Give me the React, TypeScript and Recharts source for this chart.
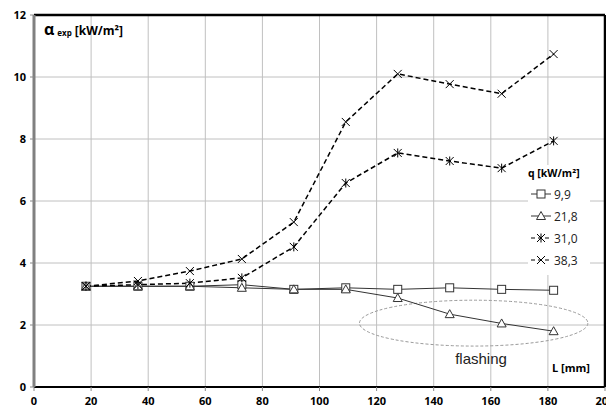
import React from "react";
import {
  LineChart, Line, XAxis, YAxis, CartesianGrid, ReferenceLine, ReferenceArea, Customized,
} from "recharts";

const lengths = [18.2, 36.4, 54.6, 72.8, 91, 109.2, 127.4, 145.6, 163.8, 182];
const q99 = [3.25, 3.25, 3.25, 3.3, 3.15, 3.2, 3.15, 3.2, 3.15, 3.12];
const q218 = [3.25, 3.25, 3.25, 3.2, 3.15, 3.15, 2.87, 2.35, 2.05, 1.8];
const q310 = [3.25, 3.3, 3.35, 3.52, 4.52, 6.58, 7.55, 7.29, 7.06, 7.94];
const q383 = [3.25, 3.42, 3.74, 4.13, 5.32, 8.55, 10.1, 9.77, 9.46, 10.74];
const xTicks = [0, 20, 40, 60, 80, 100, 120, 140, 160, 180, 200];
const yTicks = [0, 2, 4, 6, 8, 10, 12];
const seriesNames = ["9,9", "21,8", "31,0", "38,3"];

const data = lengths.map((L, i) => ({ L, a: q99[i], b: q218[i], c: q310[i], d: q383[i] }));

const FONT = "'Open Sans', 'DejaVu Sans', sans-serif";
const DARK = "#333";

const Square = (p: any) => (
  <rect key={p.key ?? `s${p.index}`} x={p.cx - 4} y={p.cy - 4} width={8} height={8} fill="#fff" stroke={DARK} strokeWidth={1} />
);
const Tri = (p: any) => (
  <polygon key={p.key ?? `t${p.index}`} points={`${p.cx},${p.cy - 4.5} ${p.cx - 4.5},${p.cy + 3.5} ${p.cx + 4.5},${p.cy + 3.5}`} fill="#fff" stroke={DARK} strokeWidth={1} />
);
const Star = (p: any) => (
  <g key={p.key ?? `a${p.index}`} stroke="#000" strokeWidth={1}>
    <line x1={p.cx - 4} y1={p.cy - 4} x2={p.cx + 4} y2={p.cy + 4} />
    <line x1={p.cx - 4} y1={p.cy + 4} x2={p.cx + 4} y2={p.cy - 4} />
    <line x1={p.cx} y1={p.cy - 4.5} x2={p.cx} y2={p.cy + 4.5} />
  </g>
);
const Cross = (p: any) => (
  <g key={p.key ?? `x${p.index}`} stroke="#000" strokeWidth={1}>
    <line x1={p.cx - 4} y1={p.cy - 4} x2={p.cx + 4} y2={p.cy + 4} />
    <line x1={p.cx - 4} y1={p.cy + 4} x2={p.cx + 4} y2={p.cy - 4} />
  </g>
);

const markers = [Square, Tri, Star, Cross];
const dashes = [undefined, undefined, "5 3", "5 3"];

const XTick = (p: any) => (
  <text x={p.x} y={p.y + 12} textAnchor="middle" fontFamily={FONT} fontWeight={700} fontSize={11} fill="#000">
    {p.payload.value}
  </text>
);
const YTick = (p: any) => (
  <text x={p.x - 2} y={p.y + 4} textAnchor="end" fontFamily={FONT} fontWeight={700} fontSize={11} fill="#000">
    {p.payload.value}
  </text>
);

const Overlay = () => {
  const lx = 528, ly = 165;
  return (
    <g>
      <text x={44} y={35} fontFamily={FONT} fontWeight={700} fill="#000">
        <tspan fontSize={16}>α</tspan>
        <tspan fontSize={8} dx={3} dy={1}>exp</tspan>
        <tspan fontSize={12} dx={3} dy={-1}>[kW/m²]</tspan>
      </text>
      <text x={552} y={372} fontFamily={FONT} fontWeight={700} fontSize={11} fill="#000">L [mm]</text>
      <text x={481} y={364} textAnchor="middle" fontFamily="'Liberation Sans', Arial, sans-serif" fontSize={15} fill="#222">flashing</text>
      <rect x={lx} y={ly} width={62} height={110} fill="#fff" />
      <text x={lx} y={ly + 12} fontFamily={FONT} fontWeight={700} fontSize={10.5} fill="#000">q [kW/m²]</text>
      {seriesNames.map((n, i) => {
        const y = ly + 29 + i * 22;
        const M = markers[i];
        return (
          <g key={n}>
            <line x1={lx + 3} x2={lx + 23} y1={y} y2={y} stroke={i < 2 ? DARK : "#000"} strokeWidth={1} strokeDasharray={i < 2 ? undefined : "4 3"} />
            <M cx={lx + 13} cy={y} index={i} key={`m${i}`} />
            <text x={lx + 26} y={y + 4.5} fontFamily={FONT} fontSize={12} fill="#222">{n}</text>
          </g>
        );
      })}
    </g>
  );
};

const EllipseShape = (p: any) => (
  <ellipse cx={p.x + p.width / 2} cy={p.y + p.height / 2} rx={p.width / 2} ry={p.height / 2} fill="none" stroke="#999" strokeWidth={1} strokeDasharray="3 2" />
);

export default function App() {
  return (
    <div style={{ position: "absolute", left: 0, top: 0, background: "#fff" }}>
      <LineChart width={606} height={408} data={data} margin={{ top: 15, right: 1, bottom: 0, left: 0 }}>
        <CartesianGrid stroke="#c0c0c0" strokeWidth={1} />
        <XAxis
          dataKey="L" type="number" domain={[0, 200]} ticks={xTicks} interval={0}
          axisLine={{ stroke: "#000", strokeWidth: 2 }} tickLine={{ stroke: "#888" }} tickSize={4}
          tick={XTick} height={21}
        />
        <YAxis
          type="number" domain={[0, 12]} ticks={yTicks} interval={0} width={34}
          axisLine={{ stroke: "#808080", strokeWidth: 3 }} tickLine={{ stroke: "#888" }} tickSize={4}
          tick={YTick}
        />
        <ReferenceLine y={12} stroke="#000" strokeWidth={2.5} />
        <ReferenceLine x={200} stroke="#000" strokeWidth={2.5} />
        <ReferenceArea x1={114} x2={194} y1={1.32} y2={2.8} shape={EllipseShape} />
        {(["a", "b", "c", "d"] as const).map((k, i) => (
          <Line
            key={k} dataKey={k} type="linear" isAnimationActive={false}
            stroke={i < 2 ? DARK : "#000"} strokeWidth={i < 2 ? 1 : 1.5}
            strokeDasharray={dashes[i]} dot={markers[i]} activeDot={false}
          />
        ))}
        <Customized component={Overlay} />
      </LineChart>
    </div>
  );
}
